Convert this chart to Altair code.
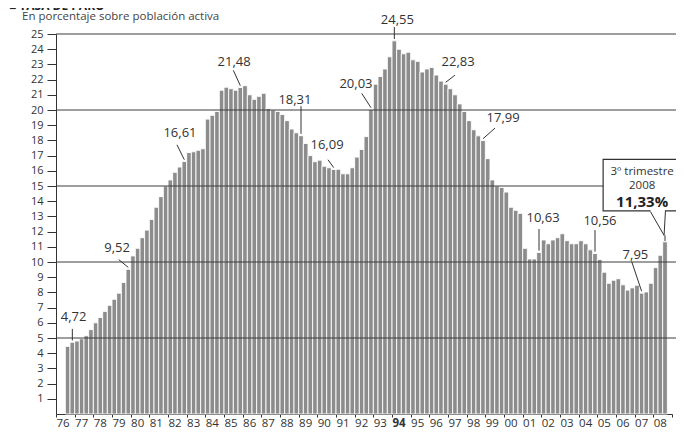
import altair as alt
import pandas as pd

FONT = "Open Sans"
INK = "#333333"

# ---------------- data ----------------
start_year = 1976
start_quarter = 3
tasa = [
    4.45, 4.72,                      # 1976 (T3, T4)
    4.80, 4.95, 5.15, 5.55,          # 1977
    6.00, 6.35, 6.75, 7.15,          # 1978
    7.55, 7.95, 8.65, 9.52,          # 1979
    10.40, 10.90, 11.60, 12.10,      # 1980
    12.80, 13.60, 14.30, 15.00,      # 1981
    15.40, 15.90, 16.25, 16.61,      # 1982
    17.20, 17.25, 17.35, 17.45,      # 1983
    19.40, 19.65, 19.90, 21.30,      # 1984
    21.50, 21.40, 21.30, 21.48,      # 1985
    21.60, 21.00, 20.70, 20.90,      # 1986
    21.10, 20.10, 20.00, 19.90,      # 1987
    19.70, 19.30, 18.75, 18.50,      # 1988
    18.31, 17.80, 17.00, 16.60,      # 1989
    16.70, 16.30, 16.20, 16.09,      # 1990
    16.10, 15.80, 15.80, 16.20,      # 1991
    16.90, 17.40, 18.25, 20.03,      # 1992
    21.70, 22.20, 22.70, 23.50,      # 1993
    24.55, 24.00, 23.70, 23.80,      # 1994
    23.30, 23.20, 22.50, 22.70,      # 1995
    22.80, 22.30, 21.90, 21.70,      # 1996
    21.40, 21.00, 20.40, 19.90,      # 1997
    19.30, 18.70, 18.30, 17.99,      # 1998
    16.80, 15.40, 15.00, 14.90,      # 1999
    14.60, 13.60, 13.40, 13.20,      # 2000
    10.90, 10.20, 10.20, 10.63,      # 2001
    11.45, 11.20, 11.45, 11.60,      # 2002
    11.86, 11.40, 11.20, 11.20,      # 2003
    11.40, 11.20, 10.80, 10.56,      # 2004
    10.17, 9.33, 8.60, 8.80,         # 2005
    8.90, 8.50, 8.15, 8.30,          # 2006
    8.47, 7.95, 8.03, 8.60,          # 2007
    9.63, 10.44, 11.33,              # 2008 (T1-T3)
]
year_ticks = list(range(1976, 2010))
y_ticks = list(range(1, 26))
grid_values = [5, 10, 15, 20, 25]

# annotated values and the bar (year, quarter) each label points to
ann_text = ["4,72", "9,52", "16,61", "21,48", "18,31", "16,09", "20,03",
            "24,55", "22,83", "17,99", "10,63", "10,56", "7,95"]
ann_bar = [(1976, 4), (1979, 4), (1982, 4), (1985, 4), (1989, 1), (1990, 4),
           (1992, 4), (1994, 1), (1996, 4), (1998, 4), (2001, 4), (2004, 4),
           (2007, 2)]

callout_lines = ["3º trimestre", "2008", "11,33%"]
callout_bar = (2008, 3)
subtitle = "En porcentaje sobre población activa"
title = "■ TASA DE PARO"

# ---------------- layout (annotation placement, data units) ----------------
ann_label_pos = [(1976.94, 6.38), (1979.27, 10.94), (1982.64, 18.49),
                 (1985.54, 23.18), (1988.80, 20.64), (1990.52, 17.71),
                 (1992.07, 21.74), (1994.29, 25.94), (1997.54, 23.18),
                 (1999.95, 19.47), (2002.09, 12.89), (2005.14, 12.70),
                 (2007.04, 10.48)]
ann_ptr_start = [(None, 5.60), (1979.36, 10.16), (1982.48, 17.71),
                 (1985.50, 22.61), (None, 20.25), (1990.57, 16.73),
                 (1992.38, 21.09), (None, 25.46), (1997.37, 22.29),
                 (1999.52, 18.81), (None, 12.17), (None, 12.10),
                 (2006.84, 10.03)]
box_t = (2005.31, 2009.6)
box_v = (13.37, 16.75)
tail_left_t = 2007.82
tail_right_t = 2008.65
tail_tip_v = 11.75
callout_text_t = 2007.40
callout_text_v = [15.93, 15.02, 13.93]
grid_end_t = 2009.25

# ---------------- build tables ----------------
rows = []
for k, v in enumerate(tasa):
    qn = (start_quarter - 1) + k
    t0 = start_year + qn / 4
    rows.append({"t0": t0, "t1": t0 + 0.25, "base": 0.0, "tasa": v})
df = pd.DataFrame(rows)


def bar_of(year, q):
    t = year + (q - 1) / 4 + 0.125
    idx = int(round((t - 0.125 - start_year) * 4)) - (start_quarter - 1)
    return t, tasa[idx]


lab_rows, ptr_rows = [], []
for txt, (yy, qq), (lt, lv), (pt, pv) in zip(ann_text, ann_bar, ann_label_pos, ann_ptr_start):
    bt, bv = bar_of(yy, qq)
    lab_rows.append({"t": lt, "v": lv, "label": txt})
    ptr_rows.append({"t1": bt if pt is None else pt, "v1": pv, "t2": bt, "v2": bv + 0.12})

ct, cv = bar_of(*callout_bar)
ptr_rows.append({"t1": tail_left_t, "v1": box_v[0], "t2": ct - 0.05, "v2": tail_tip_v})
ptr_rows.append({"t1": tail_right_t, "v1": box_v[0], "t2": ct - 0.05, "v2": tail_tip_v})
ptr_rows.append({"t1": ct, "v1": tail_tip_v, "t2": ct, "v2": cv + 0.05})

lab_df = pd.DataFrame(lab_rows)
ptr_df = pd.DataFrame(ptr_rows)
grid_df = pd.DataFrame({"v": grid_values, "t0": 1976, "t1": grid_end_t})
box_df = pd.DataFrame({"t0": [box_t[0]], "t1": [box_t[1]], "v0": [box_v[0]], "v1": [box_v[1]]})
cover_df = pd.DataFrame({"t0": [tail_left_t + 0.03], "t1": [tail_right_t - 0.03], "v": [box_v[0]]})
call_df = pd.DataFrame({"t": callout_text_t, "v": callout_text_v, "label": callout_lines,
                        "w": ["normal", "normal", "bold"]})

x_scale = alt.Scale(domain=[1976, 2009], nice=False, zero=False)
y_scale = alt.Scale(domain=[0, 25], nice=False, zero=True)

x_axis = alt.Axis(
    values=year_ticks, title=None, grid=False, tickSize=3, labelPadding=0,
    labelOffset=6.5, labelFlush=False, labelOverlap=False,
    labelExpr="datum.value >= 2009 ? '' : substring(toString(datum.value), 2)",
    labelFont=FONT, labelFontSize=11.5, labelColor=INK,
    labelFontWeight={"condition": {"test": "datum.value == 1994", "value": "bold"}, "value": "normal"},
    domainColor=INK, tickColor=INK, domainWidth=1, tickWidth=1,
)
y_axis = alt.Axis(
    values=y_ticks, title=None, grid=False, tickSize=9, labelPadding=4,
    labelOverlap=False, labelFlush=False,
    labelFont=FONT, labelFontSize=11, labelColor=INK,
    domainColor=INK, tickColor=INK, domainWidth=1, tickWidth=1,
)


def X(field):
    return alt.X(field, scale=x_scale, axis=x_axis, title=None)


def Y(field):
    return alt.Y(field, scale=y_scale, axis=y_axis, title=None)


bars = alt.Chart(df).mark_bar(color="#8c8c8c", stroke="white", strokeWidth=0.9).encode(
    x=X("t0:Q"), x2="t1:Q", y=Y("tasa:Q"), y2="base:Q",
)

grid = alt.Chart(grid_df).mark_rule(color="#3d3d3d", strokeWidth=1).encode(
    x=X("t0:Q"), x2="t1:Q", y=Y("v:Q"),
)

box = alt.Chart(box_df).mark_rect(fill="white", stroke=INK, strokeWidth=1.2).encode(
    x=X("t0:Q"), x2="t1:Q", y=Y("v0:Q"), y2="v1:Q",
)

cover = alt.Chart(cover_df).mark_rule(color="white", strokeWidth=2.5).encode(
    x=X("t0:Q"), x2="t1:Q", y=Y("v:Q"),
)

pointers = alt.Chart(ptr_df).mark_rule(color=INK, strokeWidth=1).encode(
    x=X("t1:Q"), x2="t2:Q", y=Y("v1:Q"), y2="v2:Q",
)

labels = alt.Chart(lab_df).mark_text(font=FONT, fontSize=13, color=INK,
                                      align="center", baseline="middle").encode(
    x=X("t:Q"), y=Y("v:Q"), text="label:N",
)

call_norm = alt.Chart(call_df[call_df["w"] == "normal"]).mark_text(
    font=FONT, fontSize=11.5, color=INK, align="center", baseline="middle").encode(
    x=X("t:Q"), y=Y("v:Q"), text="label:N",
)
call_bold = alt.Chart(call_df[call_df["w"] == "bold"]).mark_text(
    font=FONT, fontSize=15, fontWeight="bold", color="#222222",
    align="center", baseline="middle").encode(
    x=X("t:Q"), y=Y("v:Q"), text="label:N",
)

head = alt.Chart(pd.DataFrame({"s": [title]})).mark_text(
    font=FONT, fontSize=12, fontWeight="bold", color="#222222",
    align="left", baseline="alphabetic").encode(
    x=alt.value(-47), y=alt.value(-24.5), text="s:N")
sub = alt.Chart(pd.DataFrame({"s": [subtitle]})).mark_text(
    font=FONT, fontSize=11.5, color="#444444",
    align="left", baseline="alphabetic").encode(
    x=alt.value(-34), y=alt.value(-14), text="s:N")

chart = alt.layer(bars, grid, pointers, box, cover, labels, call_norm, call_bold, head, sub).properties(
    width=616, height=380,
    autosize=alt.AutoSizeParams(type="none"),
    padding={"left": 48, "top": 26, "right": 4, "bottom": 19},
    background="white",
).configure_view(stroke=None).configure_axis(labelOverlap=False)

chart.save("out.html", embed_options={"renderer": "svg", "actions": False})
